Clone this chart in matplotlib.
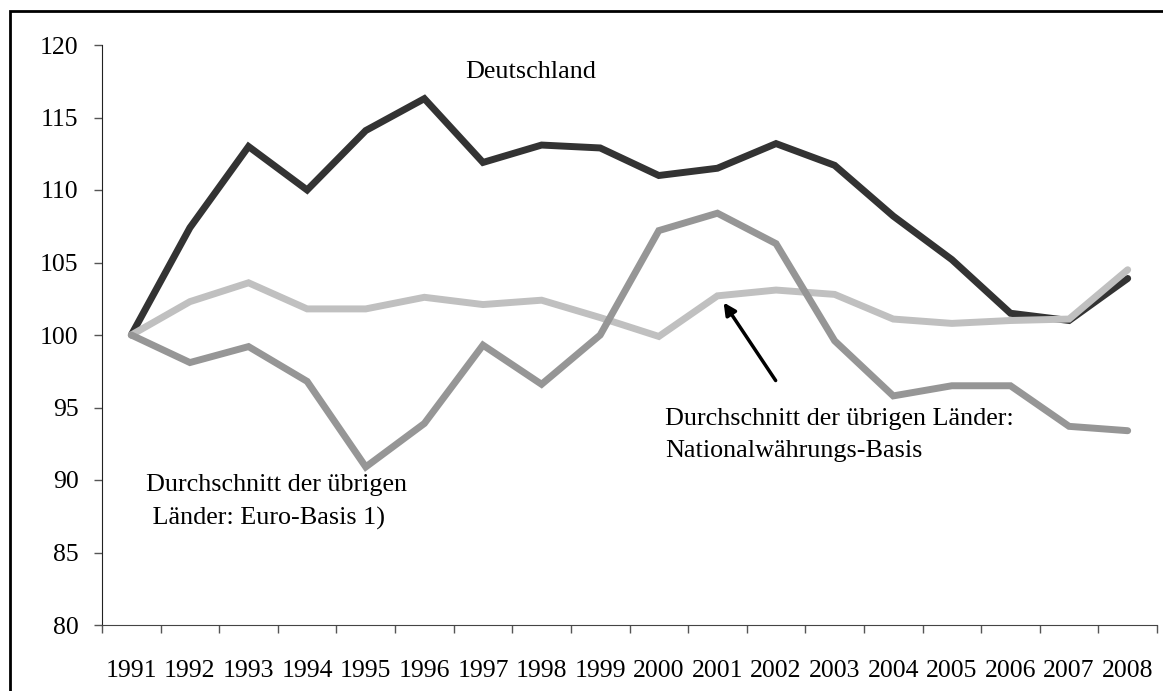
import matplotlib
matplotlib.use("Agg")
import matplotlib.pyplot as plt
from matplotlib.patches import Rectangle

plt.rcParams['font.family'] = 'Liberation Serif'

years = [str(y) for y in range(1991, 2009)]
deutschland = [100.0, 107.4, 113.0, 110.0, 114.1, 116.3, 111.9, 113.1, 112.9,
               111.0, 111.5, 113.2, 111.7, 108.2, 105.2, 101.5, 101.0, 103.9]
national = [100.0, 102.3, 103.6, 101.8, 101.8, 102.6, 102.1, 102.4, 101.2,
            99.9, 102.7, 103.1, 102.8, 101.1, 100.8, 101.0, 101.1, 104.5]
euro = [100.0, 98.1, 99.2, 96.8, 90.9, 93.9, 99.3, 96.6, 100.0,
        107.2, 108.4, 106.3, 99.6, 95.8, 96.5, 96.5, 93.7, 93.4]

W, H = 1163, 691
fig = plt.figure(figsize=(W / 100, H / 100), dpi=100)
ax = fig.add_axes([102 / W, 1 - 625 / H, (1157 - 102) / W, (625 - 45) / H])

x = list(range(len(years)))
LW = 5
ax.plot(x, deutschland, color='#333333', lw=LW, solid_capstyle='round', solid_joinstyle='miter')
ax.plot(x, national, color='#c0c0c0', lw=LW, solid_capstyle='round', solid_joinstyle='miter')
ax.plot(x, euro, color='#969696', lw=LW, solid_capstyle='round', solid_joinstyle='miter')

ax.set_xlim(-0.5, len(years) - 0.5)
ax.set_ylim(80, 120)
ax.set_yticks(range(80, 121, 5))
ax.set_xticks(x)
ax.set_xticklabels(years)
ax.set_xticks([i - 0.5 for i in range(len(years) + 1)], minor=True)
ax.tick_params(axis='x', which='major', length=0, pad=25, labelsize=18.5)
ax.tick_params(axis='x', which='minor', length=6, width=1, color='#555555', direction='out')
ax.tick_params(axis='y', length=6, width=1, color='#555555', pad=11, labelsize=18.5)
for s in ['top', 'right']:
    ax.spines[s].set_visible(False)
ax.spines['left'].set_color('#222222')
ax.spines['bottom'].set_color('#444444')

FS = 18.8
ax.text(5.69, 118.14, 'Deutschland', fontsize=FS, ha='left', va='center')
ax.text(9.11, 93.1, 'Durchschnitt der übrigen Länder:\nNationalwährungs-Basis',
        fontsize=FS, ha='left', va='center', linespacing=1.6)
ax.text(0.25, 88.48, 'Durchschnitt der übrigen\n Länder: Euro-Basis 1)',
        fontsize=FS, ha='left', va='center', linespacing=1.6)
ax.annotate('', xy=(10.08, 102.4), xytext=(11.02, 96.7),
            arrowprops=dict(arrowstyle='-|>', color='black', lw=2.5, mutation_scale=18))

fig.patches.append(Rectangle((10 / W, -0.1), 1.2, 1 - 11 / H + 0.1, transform=fig.transFigure,
                             fill=False, edgecolor='black', lw=2))

fig.savefig('out.png', dpi=100)
